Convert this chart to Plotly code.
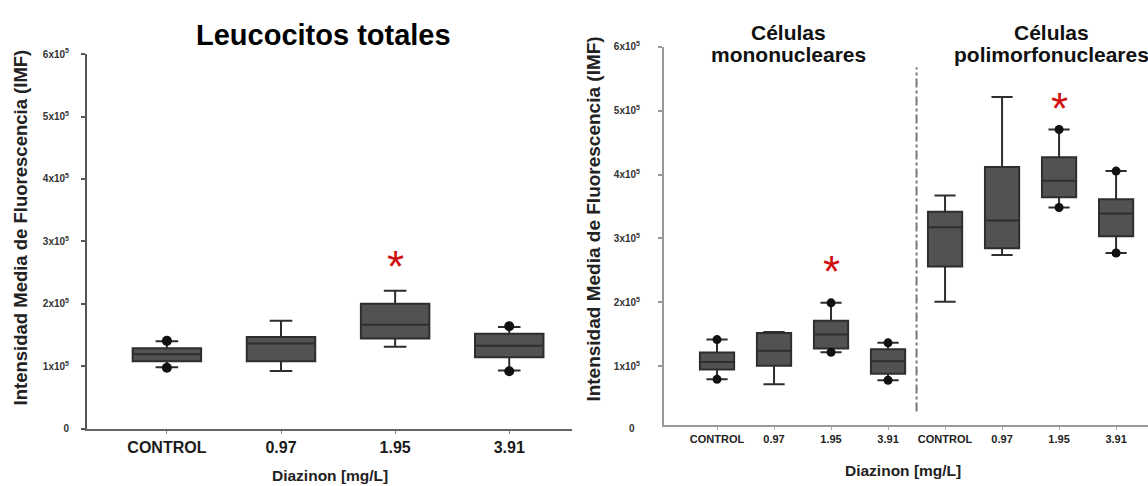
import plotly.graph_objects as go

# ---------------- data ----------------
left_cats = ["CONTROL", "0.97", "1.95", "3.91"]
left_q1 = [1.078e5, 1.078e5, 1.442e5, 1.145e5]
left_median = [1.192e5, 1.364e5, 1.666e5, 1.328e5]
left_q3 = [1.286e5, 1.469e5, 2.000e5, 1.520e5]
left_low = [0.985e5, 0.922e5, 1.313e5, 0.930e5]
left_high = [1.400e5, 1.728e5, 2.208e5, 1.630e5]
left_dot_idx = [0, 0, 3, 3]
left_dot_val = [1.406e5, 0.975e5, 1.640e5, 0.920e5]
left_star_idx = [2]
left_star_val = [2.69e5]

right_cats = ["CONTROL", "0.97", "1.95", "3.91", "CONTROL", "0.97", "1.95", "3.91"]
right_q1 = [0.948e5, 1.009e5, 1.279e5, 0.882e5, 2.562e5, 2.847e5, 3.646e5, 3.035e5]
right_median = [1.066e5, 1.244e5, 1.498e5, 1.076e5, 3.173e5, 3.279e5, 3.901e5, 3.391e5]
right_q3 = [1.214e5, 1.519e5, 1.711e5, 1.264e5, 3.417e5, 4.119e5, 4.272e5, 3.611e5]
right_low = [0.795e5, 0.719e5, 1.218e5, 0.780e5, 2.008e5, 2.740e5, 3.483e5, 2.771e5]
right_high = [1.417e5, 1.534e5, 1.992e5, 1.366e5, 3.672e5, 5.214e5, 4.704e5, 4.053e5]
right_dot_idx = [0, 0, 2, 2, 3, 3, 6, 6, 7, 7]
right_dot_val = [1.417e5, 0.795e5, 1.992e5, 1.218e5, 1.366e5, 0.780e5,
                 4.704e5, 3.483e5, 4.053e5, 2.771e5]
right_star_idx = [2, 6]
right_star_val = [2.577e5, 5.12e5]

y_tick_vals = [0, 1e5, 2e5, 3e5, 4e5, 5e5, 6e5]
y_tick_text = ["0"] + [f"{i}x10<sup>5</sup>" for i in range(1, 7)]

group_size = 4
divider_span = [0.29e5, 5.68e5]

# ---------------- styles ----------------
FONT = "Liberation Sans, Arial, sans-serif"
BOX_FILL = "#525252"
BOX_LINE = "#2e2e2e"
STAR = "#d01010"

fig = go.Figure()

# left panel
lx = list(range(len(left_cats)))
fig.add_trace(go.Box(
    x=lx, q1=left_q1, median=left_median, q3=left_q3,
    lowerfence=left_low, upperfence=left_high,
    width=0.6, whiskerwidth=0.33, fillcolor=BOX_FILL,
    line=dict(color=BOX_LINE, width=2), boxpoints=False,
    xaxis="x", yaxis="y", showlegend=False, hoverinfo="skip"))
fig.add_trace(go.Scatter(
    x=left_dot_idx, y=left_dot_val, mode="markers",
    marker=dict(color="#111111", size=10), xaxis="x", yaxis="y",
    showlegend=False, hoverinfo="skip"))

# right panel
rx = list(range(len(right_cats)))
fig.add_trace(go.Box(
    x=rx, q1=right_q1, median=right_median, q3=right_q3,
    lowerfence=right_low, upperfence=right_high,
    width=0.6, whiskerwidth=0.62, fillcolor=BOX_FILL,
    line=dict(color=BOX_LINE, width=2), boxpoints=False,
    xaxis="x2", yaxis="y2", showlegend=False, hoverinfo="skip"))
fig.add_trace(go.Scatter(
    x=right_dot_idx, y=right_dot_val, mode="markers",
    marker=dict(color="#111111", size=9), xaxis="x2", yaxis="y2",
    showlegend=False, hoverinfo="skip"))

W, H = 1148, 486

def fx(px):
    return px / W

def fy(py):
    return (H - py) / H

common_y = dict(
    tickvals=y_tick_vals, ticktext=y_tick_text, showgrid=False, zeroline=False,
    showline=True, linewidth=2, ticks="outside", ticklen=4, tickwidth=1.5,
    tickfont=dict(family=FONT, size=10, color="#333333", weight="bold"),
)

fig.update_layout(
    width=W, height=H, margin=dict(l=0, r=0, t=0, b=0),
    paper_bgcolor="white", plot_bgcolor="white",
    xaxis=dict(
        domain=[fx(87), fx(572)], range=[-0.70, 3.55], tickvals=lx, ticktext=left_cats,
        showgrid=False, zeroline=False, showline=True, linecolor="#666666", linewidth=2,
        ticks="outside", ticklen=3, tickcolor="#888888",
        tickfont=dict(family=FONT, size=16, color="#1a1a1a", weight="bold"),
        anchor="y"),
    yaxis=dict(domain=[fy(432.3), fy(48.3)], range=[0, 6e5], linecolor="#555555",
               tickcolor="#555555", ticklabelstandoff=10, anchor="x", **common_y),
    xaxis2=dict(
        domain=[fx(664), 1.0], range=[-0.93, 7.56], tickvals=rx, ticktext=right_cats,
        showgrid=False, zeroline=False, showline=True, linecolor="#999999", linewidth=2,
        ticks="outside", ticklen=3, tickcolor="#aaaaaa",
        tickfont=dict(family=FONT, size=11, color="#222222", weight="bold"),
        anchor="y2"),
    yaxis2=dict(domain=[fy(428.6), fy(40.7)], range=[8000, 6e5], linecolor="#999999",
                tickcolor="#999999", ticklabelstandoff=16, anchor="x2", **common_y),
)

# divider between cell groups
fig.add_shape(type="line", xref="x2", yref="y2",
              x0=group_size - 0.5, x1=group_size - 0.5,
              y0=divider_span[0], y1=divider_span[1],
              line=dict(color="#777777", width=2, dash="dashdot"))

# significance asterisks (glyph sits high in its line box, so shift down)
for xr, yr, idxs, vals in (("x", "y", left_star_idx, left_star_val),
                           ("x2", "y2", right_star_idx, right_star_val)):
    for i, v in zip(idxs, vals):
        fig.add_annotation(x=i, y=v, xref=xr, yref=yr, text="*", showarrow=False,
                           yshift=-6, xanchor="center", yanchor="middle",
                           font=dict(family=FONT, size=44, color=STAR))

def txt(x, y, s, size, angle=0, color="#111111", bold=True):
    fig.add_annotation(
        x=x, y=y, xref="paper", yref="paper", text=s, showarrow=False,
        textangle=angle, xanchor="center", yanchor="middle",
        font=dict(family=FONT, size=size, color=color, weight="bold" if bold else "normal"))

# titles
txt(fx(323), fy(29), "Leucocitos totales", 29, color="#000000")
txt(fx(788), fy(26), "Células", 21)
txt(fx(788), fy(49), "mononucleares", 21)
txt(fx(1051), fy(26), "Células", 21)
txt(fx(1051), fy(49), "polimorfonucleares", 21)

# axis titles
txt(fx(20), fy(226), "Intensidad Media de Fluorescencia (IMF)", 18.5, angle=-90, color="#222222")
txt(fx(594), fy(218), "Intensidad Media de Fluorescencia (IMF)", 19, angle=-90, color="#222222")
txt(fx(330), fy(480), "Diazinon [mg/L]", 15.5, color="#222222")
txt(fx(903), fy(475), "Diazinon [mg/L]", 15.5, color="#222222")

# zero label for the right axis (its range starts slightly above 0)
txt(fx(632), fy(432), "0", 10, color="#333333")

fig.write_html("out.html")
